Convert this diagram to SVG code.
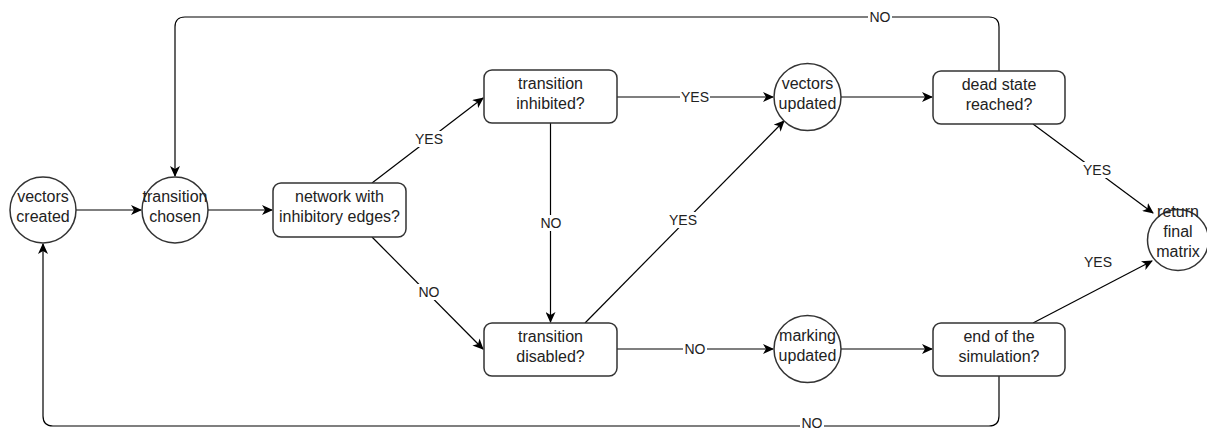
<svg xmlns="http://www.w3.org/2000/svg" width="1207" height="430" viewBox="0 0 1207 430">
<defs>
<marker id="arr" markerWidth="12" markerHeight="10" refX="10" refY="5" orient="auto" markerUnits="userSpaceOnUse">
<path d="M0,0 L11,5 L0,10 L3,5 z" fill="#000"/>
</marker>
<style>
.n{fill:#fff;stroke:#333;stroke-width:1.5}
.t{font-family:"Liberation Sans",Arial,sans-serif;font-size:16px;fill:#222;text-anchor:middle}
.e{fill:none;stroke:#000;stroke-width:1.2}
.a{marker-end:url(#arr)}
.lb{fill:#fff}
.l{font-family:"Liberation Sans",Arial,sans-serif;font-size:14px;fill:#222;text-anchor:middle;dominant-baseline:central}
</style>
</defs>
<rect width="1207" height="430" fill="#fff"/>
<g id="connectors">
<path class="e a" d="M76,210 H141"/>
<path class="e a" d="M208,210 H272"/>
<path class="e a" d="M372,183 L483,98"/>
<path class="e a" d="M372,237 L483,349"/>
<path class="e a" d="M617,97 H773"/>
<path class="e a" d="M550.5,123 V322"/>
<path class="e a" d="M585,323 L784,121"/>
<path class="e a" d="M617,349 H773"/>
<path class="e a" d="M841,97 H932"/>
<path class="e a" d="M841,349 H932"/>
<path class="e a" d="M1033,124 L1153,213"/>
<path class="e a" d="M1033,323 L1152,261"/>
<path class="e a" d="M999,71 V27 Q999,17 989,17 H185 Q175,17 175,27 V176"/>
<path class="e a" d="M999,375 V416 Q999,426 989,426 H53 Q43,426 43,416 V244"/>
<g>
<rect class="lb" x="414" y="131" width="30" height="16"/><text class="l" x="429" y="139">YES</text>
<rect class="lb" x="417" y="284" width="24" height="16"/><text class="l" x="429" y="292">NO</text>
<rect class="lb" x="680" y="89" width="30" height="16"/><text class="l" x="695" y="97">YES</text>
<rect class="lb" x="539" y="215" width="24" height="16"/><text class="l" x="551" y="223">NO</text>
<rect class="lb" x="668" y="212" width="30" height="16"/><text class="l" x="683" y="220">YES</text>
<rect class="lb" x="683" y="341" width="24" height="16"/><text class="l" x="695" y="349">NO</text>
<rect class="lb" x="1082" y="162" width="30" height="16"/><text class="l" x="1097" y="170">YES</text>
<rect class="lb" x="1083" y="254" width="30" height="16"/><text class="l" x="1098" y="262">YES</text>
<rect class="lb" x="868" y="9" width="24" height="16"/><text class="l" x="880" y="17">NO</text>
<rect class="lb" x="800" y="419" width="24" height="11"/><text class="l" x="812" y="423">NO</text>
</g>
</g>
<g id="vectors-created"><circle class="n" cx="43" cy="210" r="33"/><text class="t" x="43" y="202">vectors</text><text class="t" x="43" y="222">created</text></g>
<g id="transition-chosen"><circle class="n" cx="175" cy="210" r="33"/><text class="t" x="175" y="202">transition</text><text class="t" x="175" y="222">chosen</text></g>
<g id="network"><rect class="n" x="273" y="183" width="133" height="54" rx="8"/><text class="t" x="339.5" y="202">network with</text><text class="t" x="339.5" y="222">inhibitory edges?</text></g>
<g id="transition-inhibited"><rect class="n" x="484" y="70" width="133" height="53" rx="8"/><text class="t" x="550.5" y="89">transition</text><text class="t" x="550.5" y="109">inhibited?</text></g>
<g id="transition-disabled"><rect class="n" x="484" y="323" width="133" height="53" rx="8"/><text class="t" x="550.5" y="342">transition</text><text class="t" x="550.5" y="362">disabled?</text></g>
<g id="vectors-updated"><circle class="n" cx="807.5" cy="97" r="33.5"/><text class="t" x="807.5" y="89">vectors</text><text class="t" x="807.5" y="109">updated</text></g>
<g id="marking-updated"><circle class="n" cx="807.5" cy="349" r="33.5"/><text class="t" x="807.5" y="341">marking</text><text class="t" x="807.5" y="361">updated</text></g>
<g id="dead-state"><rect class="n" x="933" y="71" width="132" height="53" rx="8"/><text class="t" x="999" y="90">dead state</text><text class="t" x="999" y="110">reached?</text></g>
<g id="end-simulation"><rect class="n" x="933" y="323" width="132" height="53" rx="8"/><text class="t" x="999" y="342">end of the</text><text class="t" x="999" y="362">simulation?</text></g>
<g id="return-final-matrix"><circle class="n" cx="1178" cy="240" r="30.5"/><text class="t" x="1178" y="217">return</text><text class="t" x="1178" y="237">final</text><text class="t" x="1178" y="257">matrix</text></g>
</svg>
